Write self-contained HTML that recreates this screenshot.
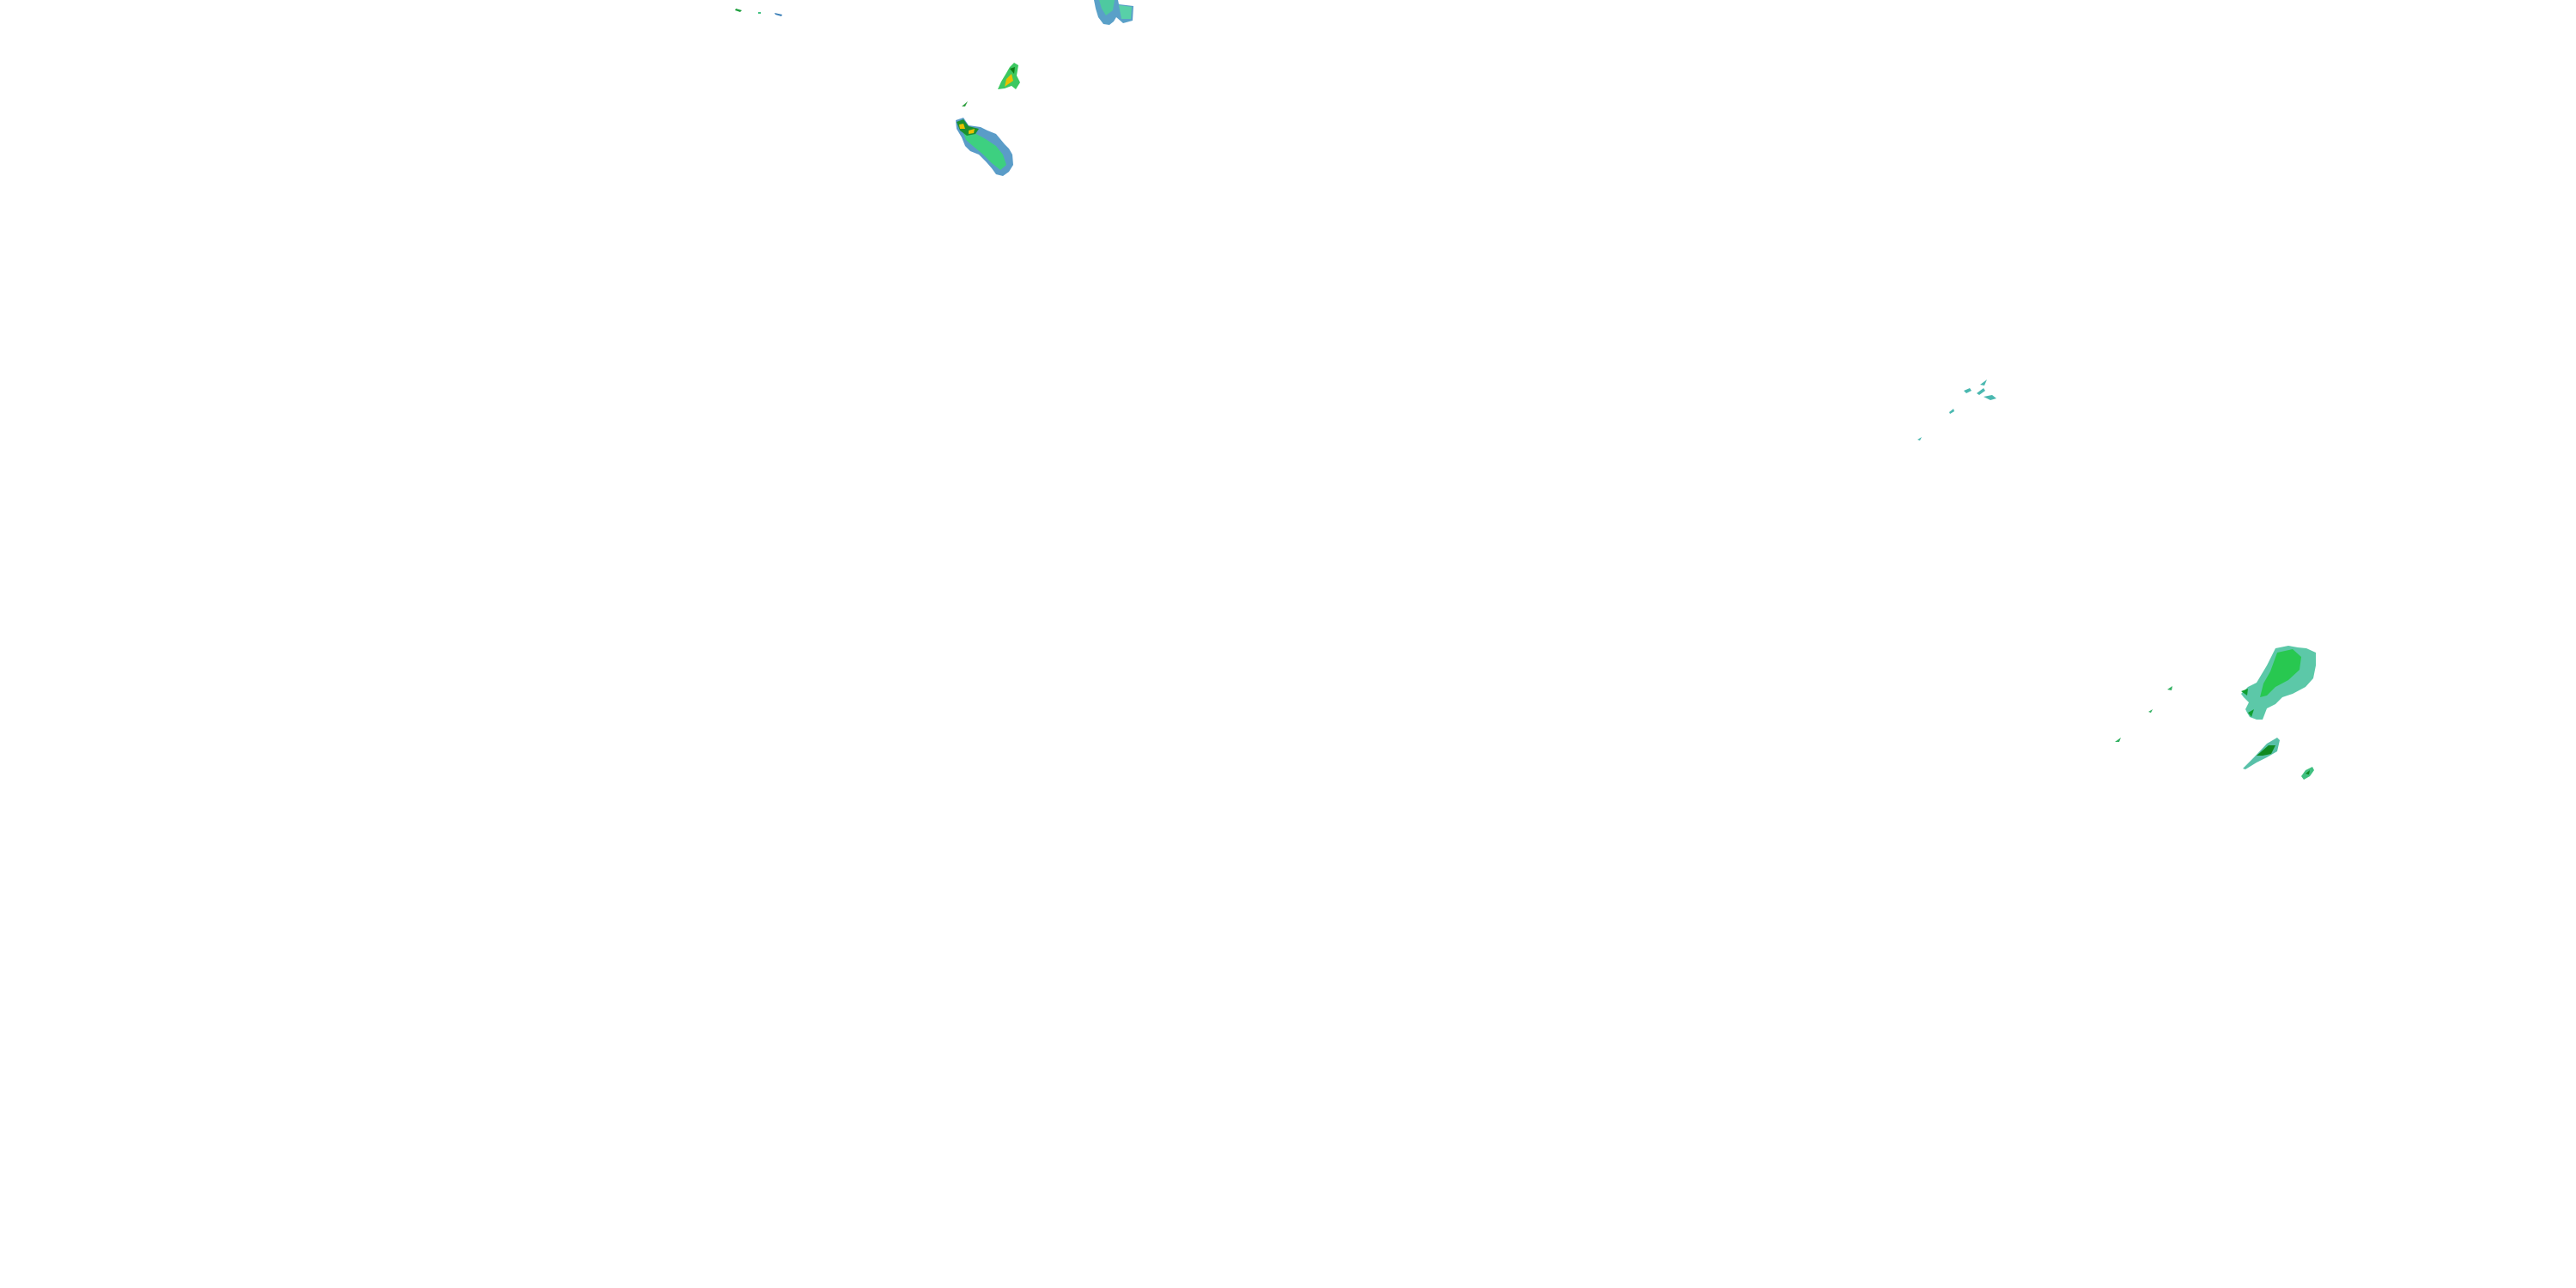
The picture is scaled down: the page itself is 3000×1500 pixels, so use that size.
<!DOCTYPE html>
<html><head><meta charset="utf-8"><style>html,body{margin:0;padding:0;background:#fff;width:3000px;height:1500px;overflow:hidden}</style></head>
<body>
<svg width="3000" height="1500" viewBox="0 0 3000 1500" xmlns="http://www.w3.org/2000/svg">
<!-- top blob -->
<path d="M1274,0 L1302,0 L1303,5 L1320,7 L1319,24 L1308,27 L1300,20 L1297,25 L1292,29 L1285,28 L1279,20 L1276,10 Z" fill="#5aa0c8"/>
<path d="M1280,0 L1298,0 L1296,12 L1288,18 L1283,10 Z" fill="#4ec9a0"/>
<path d="M1303,6 L1318,8 L1317,22 L1306,22 Z" fill="#58d0a8"/>
<!-- middle blob -->
<path d="M1181,73 L1186,76 L1184,88 L1188,96 L1183,104 L1178,100 L1170,103 L1162,104 L1166,95 L1172,85 L1176,78 Z" fill="#3cc860"/>
<path d="M1172,92 L1178,86 L1180,94 L1170,101 Z" fill="#e8c000"/>
<path d="M1176,80 L1182,78 L1181,86 Z" fill="#108018"/>
<path d="M1120,124 L1127,118 L1124,124 Z" fill="#30a040"/>
<!-- lower blob -->
<path d="M1113,140 L1122,137 L1128,146 L1142,148 L1150,152 L1160,156 L1170,168 L1175,173 L1179,180 L1180,192 L1175,200 L1168,205 L1160,203 L1155,196 L1148,188 L1140,180 L1130,176 L1124,170 L1120,160 L1114,150 Z" fill="#5a9cc8"/>
<path d="M1122,155 L1135,155 L1148,162 L1160,170 L1168,180 L1172,192 L1165,198 L1155,190 L1145,180 L1133,170 L1125,163 Z" fill="#3dd080"/>
<path d="M1114,142 L1122,139 L1128,147 L1140,150 L1136,156 L1126,158 L1118,152 Z" fill="#1a9030"/>
<path d="M1117,145 L1122,144 L1124,150 L1118,150 Z M1128,152 L1135,150 L1134,155 L1128,156 Z" fill="#e8c000"/>
<!-- far top-left bits -->
<path d="M857,10 L864,12 L862,14 L856,12 Z" fill="#20a040"/>
<rect x="883" y="14" width="3" height="2" fill="#40c080"/>
<path d="M902,15 L911,17 L910,19 L903,17 Z" fill="#3c80b8"/>
<!-- speckles -->
<g fill="#4ab8b0">
<path d="M2287,455 L2294,452 L2296,455 L2290,458 Z M2302,458 L2310,452 L2312,455 L2305,460 Z M2306,448 L2314,442 L2311,449 Z M2310,462 L2320,460 L2325,464 L2318,466 Z"/>
<path d="M2270,480 L2275,476 L2276,479 L2271,482 Z M2233,512 L2238,509 L2236,513 Z"/>
</g>
<!-- right big blob -->
<path d="M2650,755 L2665,752 L2676,754 L2686,755 L2697,760 L2697,775 L2694,790 L2685,800 L2670,808 L2658,812 L2650,820 L2640,825 L2635,838 L2628,838 L2620,835 L2617,830 L2615,826 L2619,818 L2613,812 L2610,808 L2618,800 L2628,795 L2634,785 L2640,775 L2645,765 Z" fill="#5cc8a8"/>
<path d="M2652,760 L2670,756 L2680,765 L2678,780 L2665,792 L2650,800 L2640,810 L2632,812 L2636,796 L2644,782 Z" fill="#28c850"/>
<path d="M2610,805 L2618,802 L2617,810 Z M2618,830 L2625,826 L2622,835 Z" fill="#10a030"/>
<!-- small right bits -->
<path d="M2524,803 L2530,799 L2529,804 Z M2502,829 L2507,826 L2505,830 Z M2463,864 L2470,859 L2468,864 Z" fill="#30b060"/>
<!-- streak -->
<path d="M2612,895 L2625,882 L2640,866 L2652,859 L2655,862 L2652,875 L2640,882 L2628,888 L2615,896 Z" fill="#58c0a8"/>
<path d="M2628,880 L2642,868 L2650,868 L2645,878 L2635,880 Z" fill="#108a20"/>
<!-- tiny blob -->
<path d="M2680,904 L2685,897 L2693,893 L2695,897 L2690,904 L2683,908 Z" fill="#40c080"/>
<path d="M2685,901 L2690,897 L2689,902 Z" fill="#108a20"/>
</svg>
</body></html>
